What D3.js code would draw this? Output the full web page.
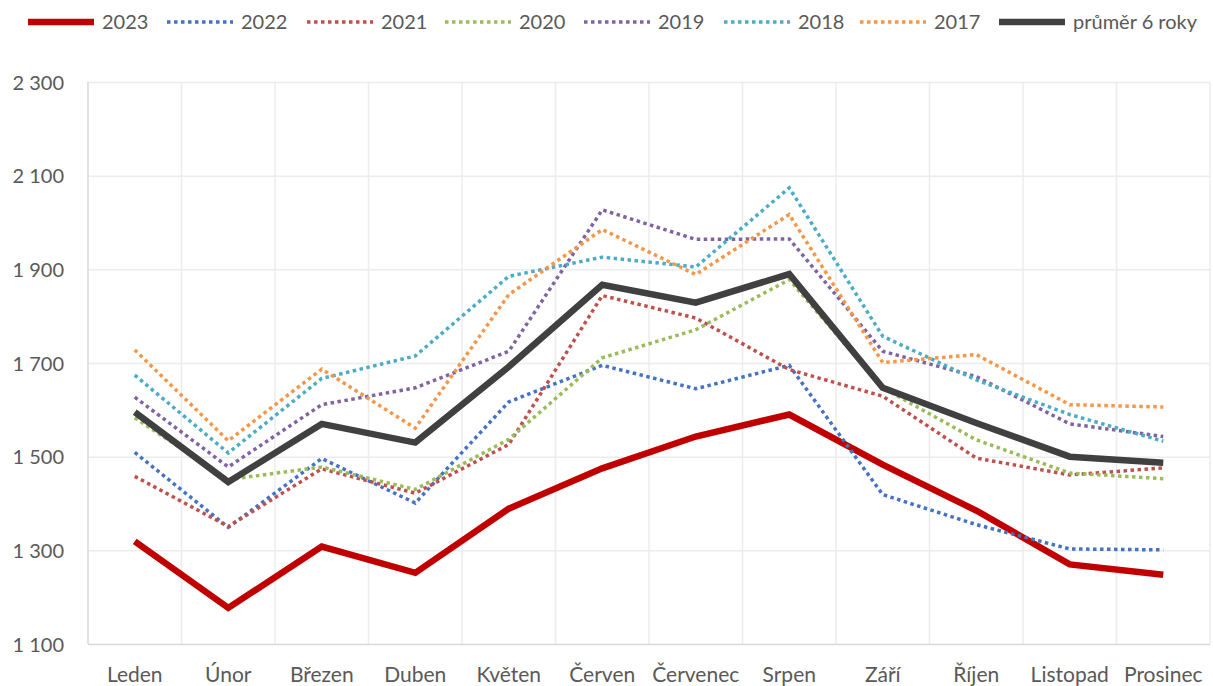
<!DOCTYPE html>
<html>
<head>
<meta charset="utf-8">
<script src="https://cdn.jsdelivr.net/npm/d3@7"></script>
<style>
  body { margin: 0; background: #fff; }
  svg { font-family: Lato, "Open Sans", sans-serif; }
</style>
</head>
<body>
<svg id="chart" width="1213" height="686"></svg>
<script>
const months = ['Leden', 'Únor', 'Březen', 'Duben', 'Květen', 'Červen', 'Červenec', 'Srpen', 'Září', 'Říjen', 'Listopad', 'Prosinec'];
const yTicks = [1100, 1300, 1500, 1700, 1900, 2100, 2300];

const v2023 = [1319, 1177, 1308, 1252, 1389, 1475, 1543, 1590, 1483, 1385, 1270, 1248];
const v2022 = [1509, 1349, 1496, 1401, 1617, 1695, 1645, 1695, 1419, 1355, 1303, 1301];
const v2021 = [1458, 1351, 1474, 1422, 1526, 1844, 1796, 1686, 1629, 1497, 1461, 1476];
const v2020 = [1583, 1451, 1478, 1430, 1537, 1711, 1771, 1878, 1647, 1536, 1465, 1453];
const v2019 = [1627, 1478, 1611, 1647, 1725, 2027, 1964, 1965, 1725, 1671, 1570, 1543];
const v2018 = [1674, 1508, 1667, 1715, 1885, 1926, 1905, 2074, 1757, 1664, 1590, 1533];
const v2017 = [1728, 1534, 1687, 1561, 1846, 1985, 1889, 2017, 1701, 1718, 1611, 1606];
const vAvg  = [1595, 1446, 1570, 1530, 1692, 1867, 1829, 1890, 1647, 1572, 1500, 1487];

const series = [
  {name: '2023', values: v2023, color: '#C00000', solid: true},
  {name: '2022', values: v2022, color: '#4472C4'},
  {name: '2021', values: v2021, color: '#C0504D'},
  {name: '2020', values: v2020, color: '#9BBB59'},
  {name: '2019', values: v2019, color: '#8064A2'},
  {name: '2018', values: v2018, color: '#4BACC6'},
  {name: '2017', values: v2017, color: '#F79646'},
  {name: 'průměr 6 roky', values: vAvg, color: '#404040', solid: true}
];

const svg = d3.select('#chart');
const margin = {left: 88, right: 3, top: 82, bottom: 42};
const W = 1213, H = 686;
const textColor = '#595959';
const fontSize = '20px';

const x = d3.scaleBand().domain(months).range([margin.left, W - margin.right]);
const y = d3.scaleLinear().domain([1100, 2300]).range([H - margin.bottom, margin.top]);

const fmt = v => d3.format(',')(v).replace(',', ' ');

// vertical gridlines at category boundaries
svg.append('g')
  .selectAll('line')
  .data(d3.range(1, months.length + 1))
  .enter().append('line')
  .attr('x1', d => margin.left + x.step() * d)
  .attr('x2', d => margin.left + x.step() * d)
  .attr('y1', y(2300)).attr('y2', y(1100))
  .attr('stroke', '#ececec').attr('stroke-width', 1.5);

// y axis with horizontal grid
const yAxis = svg.append('g')
  .attr('transform', `translate(${margin.left},0)`)
  .call(d3.axisLeft(y).tickValues(yTicks).tickFormat(fmt)
    .tickSize(-(W - margin.left - margin.right)).tickPadding(24));
yAxis.select('.domain').remove();
yAxis.selectAll('.tick line')
  .attr('stroke', d => d === 1100 ? '#d9d9d9' : '#ececec')
  .attr('stroke-width', 1.5);
yAxis.selectAll('.tick text')
  .attr('dy', '0.36em')
  .attr('fill', textColor)
  .style('font-family', 'Lato, sans-serif')
  .style('font-size', fontSize);

svg.append('line')
  .attr('x1', margin.left).attr('x2', margin.left)
  .attr('y1', y(2300)).attr('y2', y(1100))
  .attr('stroke', '#d9d9d9').attr('stroke-width', 1.5);

// x axis labels
const xAxis = svg.append('g')
  .attr('transform', `translate(0,${y(1100)})`)
  .call(d3.axisBottom(x).tickSize(0).tickPadding(23));
xAxis.select('.domain').remove();
xAxis.selectAll('.tick text')
  .attr('fill', textColor)
  .style('font-family', 'Lato, sans-serif')
  .style('font-size', '21px');

// lines
const line = d3.line()
  .x((d, i) => x(months[i]) + x.bandwidth() / 2)
  .y(d => y(d));

svg.append('g')
  .selectAll('path')
  .data(series)
  .enter().append('path')
  .attr('d', d => line(d.values))
  .attr('fill', 'none')
  .attr('stroke', d => d.color)
  .attr('stroke-width', d => d.solid ? 6.5 : 3.5)
  .attr('stroke-dasharray', d => d.solid ? null : '3.5 3.5')
  .attr('stroke-linejoin', 'miter');

// legend
const legendX = [28, 167, 307, 445, 584, 724, 860, 999];
const legendLen = 66;
const legend = svg.append('g')
  .selectAll('g')
  .data(series)
  .enter().append('g')
  .attr('transform', (d, i) => `translate(${legendX[i]},22)`);

legend.append('line')
  .attr('x1', 0).attr('x2', legendLen)
  .attr('stroke', d => d.color)
  .attr('stroke-width', d => d.solid ? 6.5 : 3.5)
  .attr('stroke-dasharray', d => d.solid ? null : '3.5 3.5');

legend.append('text')
  .attr('x', legendLen + 8)
  .attr('dy', '0.36em')
  .attr('fill', textColor)
  .style('font-size', fontSize)
  .text(d => d.name);
</script>
</body>
</html>
